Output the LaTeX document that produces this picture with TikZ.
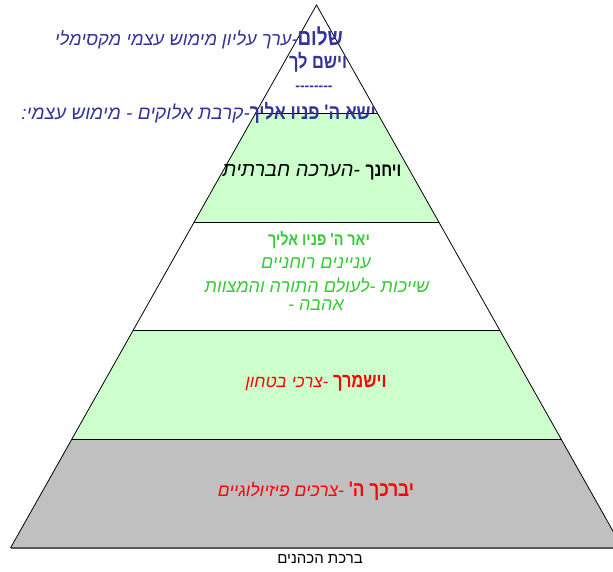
\documentclass[tikz,border=0pt]{standalone}
\usepackage{fontspec}
\usetikzlibrary{calc}
\TeXXeTstate=1
\newfontfamily\heb[Script=Hebrew]{Liberation Sans}
\newfontfamily\hebb[Script=Hebrew,FakeStretch=0.82]{Liberation Sans}
\definecolor{lgreen}{RGB}{204,255,204}
\definecolor{lgray}{RGB}{192,192,192}
\definecolor{navy}{RGB}{51,51,153}
\definecolor{hgreen}{RGB}{51,204,51}
\newcommand{\bw}[2]{{\hebb\bfseries\fontsize{#1}{#1}\selectfont #2}}
\newcommand{\cw}[2]{{\heb\itshape\fontsize{#1}{#1}\selectfont #2}}
\tikzset{
  edge/.style={draw=black, line width=0.8pt},
  lbl/.style={inner sep=0pt, font=\heb},
}
\begin{document}
\begin{tikzpicture}[x=1pt,y=-1pt]
\useasboundingbox (0,0) rectangle (613,572);
\clip (0,0) rectangle (613,572);
\coordinate (A) at (316.5,5);
\coordinate (BL) at (10.5,548);
\coordinate (BR) at (622.5,548);
\coordinate (L1) at ($(A)!0.2!(BL)$);
\coordinate (R1) at ($(A)!0.2!(BR)$);
\coordinate (L2) at ($(A)!0.4!(BL)$);
\coordinate (R2) at ($(A)!0.4!(BR)$);
\coordinate (L3) at ($(A)!0.6!(BL)$);
\coordinate (R3) at ($(A)!0.6!(BR)$);
\coordinate (L4) at ($(A)!0.8!(BL)$);
\coordinate (R4) at ($(A)!0.8!(BR)$);
% fills
\fill[white] (A) -- (R1) -- (L1) -- cycle;
\fill[lgreen] (L1) -- (R1) -- (R2) -- (L2) -- cycle;
\fill[white] (L2) -- (R2) -- (R3) -- (L3) -- cycle;
\fill[lgreen] (L3) -- (R3) -- (R4) -- (L4) -- cycle;
\fill[lgray] (L4) -- (R4) -- (BR) -- (BL) -- cycle;
% outlines
\draw[edge] (BL) -- (A) -- (BR);
\draw[edge] (L1) -- (R1);
\draw[edge] (L2) -- (R2);
\draw[edge] (L3) -- (R3);
\draw[edge] (L4) -- (R4);
\draw[draw=black!65, line width=1.6pt] (BL) -- (BR);
% texts
\node[lbl, text=navy, anchor=east] (t1) at (343,38) {\beginR\bw{23}{שלום}\cw{18.3}{-ערך עליון מימוש עצמי מקסימלי}\endR};
\node[lbl, text=navy] (t2) at (318,62) {\beginR\bw{20}{וישם לך}\endR};
\node[lbl, text=navy] (t3) at (314,88) {\bfseries\fontsize{14}{16}\selectfont --------};
\node[lbl, text=navy, anchor=east] (t4) at (376,113) {\beginR\bw{21}{ישא ה' פניו אליך}\cw{19}{-קרבת אלוקים - מימוש עצמי:}\endR};
\node[lbl, text=black] (t5) at (312,172) {\beginR\bw{19}{ויחנך}\cw{20}{\ -הערכה חברתית}\endR};
\node[lbl, text=hgreen] (t6) at (319,240) {\beginR\bw{17.5}{יאר ה' פניו אליך}\endR};
\node[lbl, text=hgreen] (t7) at (316,263) {\beginR\cw{18}{עניינים רוחניים}\endR};
\node[lbl, text=hgreen] (t8) at (317,285) {\beginR\cw{18}{שייכות -לעולם התורה והמצוות}\endR};
\node[lbl, text=hgreen] (t9) at (316,305) {\beginR\cw{18}{אהבה -}\endR};
\node[lbl, text=red] (t10) at (316,383) {\beginR\bw{20}{וישמרך}\cw{17}{\ -צרכי בטחון}\endR};
\node[lbl, text=red] (t11) at (316,491) {\beginR\bw{21}{יברכך ה'}\cw{17.5}{\ -צרכים פיזיולוגיים}\endR};
\node[lbl, text=black] (t12) at (320,559) {\fontsize{15}{17}\selectfont\beginR ברכת הכהנים\endR};
\end{tikzpicture}
\end{document}
